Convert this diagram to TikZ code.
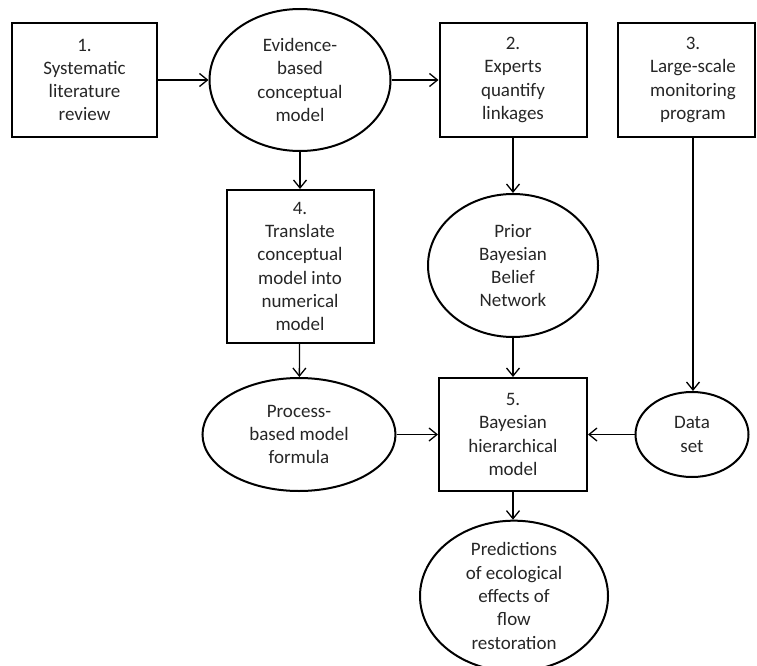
\documentclass[tikz,border=0pt]{standalone}
\usepackage{fontspec}
\setmainfont{Carlito}
\usetikzlibrary{shapes.geometric,arrows.meta}
\tikzset{
  boxnode/.style={draw, line width=2pt, rectangle, inner sep=0pt, align=center},
  ellnode/.style={draw, line width=2pt, ellipse, inner sep=0pt, align=center},
  txt/.style={inner sep=0pt, align=center},
  conn/.style={line width=1.3pt, -{Straight Barb[length=8pt,width=13pt,line width=1.3pt]}},
}
\begin{document}
\begin{tikzpicture}[x=1pt,y=-1pt, every node/.style={font=\fontsize{19}{23.3}\selectfont, text=black!85}]
\useasboundingbox (0,0) rectangle (757,666);
\node[boxnode, minimum width=145pt, minimum height=113pt] (b1) at (84.5,80) {1.\\Systematic\\literature\\review};
\node[ellnode, minimum width=181pt, minimum height=142pt] (e1) at (300,80) {Evidence-\\based\\conceptual\\model};
\node[boxnode, minimum width=147pt, minimum height=113pt] (b2) at (513,80) {2.\\Experts\\quantify\\linkages};
\node[boxnode, minimum width=137pt, minimum height=113pt] (b3) at (686.5,80) {};
\node[txt] (b3t) at (693,80) {3.\\Large-scale\\monitoring\\program};
\node[boxnode, minimum width=147pt, minimum height=153pt] (b4) at (300,266.5) {4.\\Translate\\conceptual\\model into\\numerical\\model};
\node[ellnode, minimum width=170pt, minimum height=143pt] (pr) at (513,265.5) {Prior\\Bayesian\\Belief\\Network};
\node[ellnode, minimum width=193pt, minimum height=113pt] (pc) at (299,434.5) {Process-\\based model\\formula};
\node[boxnode, minimum width=148pt, minimum height=113pt] (b5) at (513,434.5) {5.\\Bayesian\\hierarchical\\model};
\node[ellnode, minimum width=113pt, minimum height=85pt] (ds) at (692,434.5) {Data\\set};
\node[ellnode, minimum width=188pt, minimum height=138pt] (pd) at (514,596) {Predictions\\of ecological\\effects of\\flow\\restoration};
\draw[conn] (b1) -- (e1);
\draw[conn] (e1) -- (b2);
\draw[conn] (e1) -- (b4);
\draw[conn] (b2) -- (pr);
\draw[conn] (b4) -- (pc);
\draw[conn] (pr) -- (b5);
\draw[conn] (b3t |- b3.south) -- (b3t |- ds.north);
\draw[conn] (pc) -- (b5);
\draw[conn] (ds) -- (b5);
\draw[conn] (b5.south) -- (b5.south |- pd.north);
\end{tikzpicture}
\end{document}
